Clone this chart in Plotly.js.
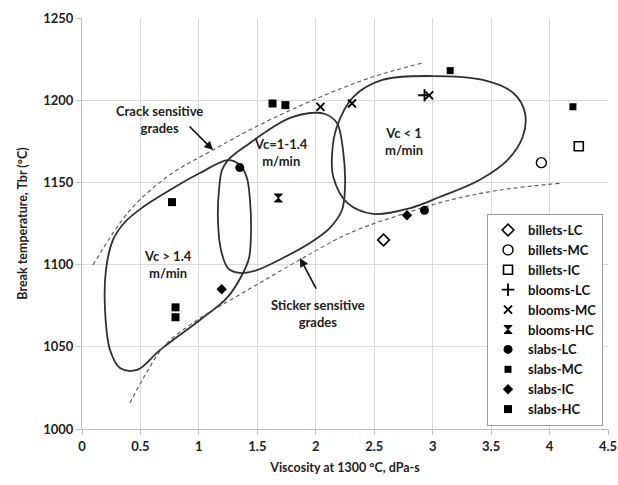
<!DOCTYPE html>
<html>
<head>
<meta charset="utf-8">
<script src="https://cdn.plot.ly/plotly-3.0.1.min.js"></script>
<style>html,body{margin:0;padding:0;background:#fff;}#chart{width:618px;height:485px;}</style>
</head>
<body>
<div id="chart"></div>
<script>
// ---- data series ----
const billetsLC_x = [2.58];           const billetsLC_y = [1115];
const billetsMC_x = [3.93];           const billetsMC_y = [1162];
const billetsIC_x = [4.25];           const billetsIC_y = [1172];
const bloomsLC_x  = [2.93];           const bloomsLC_y  = [1203];
const bloomsMC_x  = [2.04, 2.31, 2.97]; const bloomsMC_y = [1196, 1198, 1203];
const bloomsHC_x  = [1.68];           const bloomsHC_y  = [1140.5];
const slabsLC_x   = [1.35, 2.93];     const slabsLC_y   = [1159, 1133];
const slabsMC_x   = [3.15, 4.20];     const slabsMC_y   = [1218, 1196];
const slabsIC_x   = [1.195, 2.78];    const slabsIC_y   = [1085, 1130];
const slabsHC_x   = [1.63, 1.74, 0.77, 0.80, 0.80];
const slabsHC_y   = [1198, 1197, 1138, 1074, 1068];

// region outlines (Vc > 1.4, Vc = 1-1.4, Vc < 1)
const loopA_x = [1.249,1.352,1.411,1.437,1.446,1.429,1.369,1.240,1.009,0.667,0.470,0.325,0.240,0.197,0.205,0.265,0.368,0.522,0.753,1.009,1.249];
const loopA_y = [1163.6,1160.6,1152.7,1139.3,1121,1104,1093.7,1079.7,1066.3,1048,1035.9,1037.1,1048,1072.4,1096.7,1115,1125.9,1135,1145.4,1155.7,1163.6];
const loopB_x = [1.249,1.437,1.583,1.779,1.950,2.079,2.181,2.233,2.250,2.224,2.121,1.950,1.719,1.497,1.352,1.249,1.189,1.163,1.172,1.198,1.249];
const loopB_y = [1163.6,1174,1181.3,1189.2,1192.2,1191.6,1186.1,1169.7,1147.2,1133.2,1122.3,1113.1,1104,1096.7,1094.9,1097.9,1108.9,1127.1,1145.4,1157.5,1163.6];
const loopC_x = [2.18,2.32,2.57,3.00,3.43,3.69,3.79,3.77,3.64,3.40,3.06,2.81,2.49,2.27,2.15,2.14,2.18];
const loopC_y = [1183.7,1201.9,1212.3,1214.7,1212.3,1204.4,1192.2,1177.6,1163.6,1151.5,1141.1,1134.4,1130.8,1137.5,1153.3,1167.9,1183.7];

// dashed boundaries
const crack_x = [0.094,0.41,0.75,1.12,1.52,2.04,2.46,2.91];
const crack_y = [1099.8,1133,1154.5,1169.7,1185,1202,1213.5,1222.6];
const sticker_x = [0.41,0.54,0.71,1.01,1.27,1.52,1.86,2.29,2.72,3.15,3.58,4.11];
const sticker_y = [1015.8,1032.8,1051,1067.5,1078.5,1088.8,1102.8,1119.2,1130.2,1139.3,1145.4,1149.6];

// labels
const labelText = ['Crack sensitive<br>grades','Vc=1-1.4<br>m/min','Vc < 1<br>m/min','Vc > 1.4<br>m/min','Sticker sensitive<br>grades'];
const labelX = [0.66, 1.70, 2.755, 0.736, 2.02];
const labelY = [1188, 1168, 1175, 1100, 1070];
// arrows: tail -> head
const arrowTailX = [0.907, 2.010]; const arrowTailY = [1184.9, 1084.5];
const arrowHeadX = [1.121, 1.865]; const arrowHeadY = [1169.7, 1104];

const xTicks = [0,0.5,1,1.5,2,2.5,3,3.5,4,4.5];
const yTicks = [1000,1050,1100,1150,1200,1250];

// ---- build ----
const FONT = 'Lato, "Open Sans", sans-serif';
const INK = '#000';
function pts(name, x, y, symbol, size, lw){
  return {type:'scatter', mode:'markers', name:name, x:x, y:y,
    marker:{symbol:symbol, size:size, color:INK, line:{color:INK, width:lw}}};
}
function outline(x, y, dash, color, width){
  return {type:'scatter', mode:'lines', x:x, y:y, showlegend:false, hoverinfo:'skip',
    line:{shape:'spline', smoothing:1.0, color:color, width:width, dash:dash}};
}
const traces = [
  outline(loopA_x, loopA_y, 'solid', '#303030', 1.8),
  outline(loopB_x, loopB_y, 'solid', '#303030', 1.8),
  outline(loopC_x, loopC_y, 'solid', '#303030', 1.8),
  outline(crack_x, crack_y, '4px,3px', '#555', 1.1),
  outline(sticker_x, sticker_y, '4px,3px', '#555', 1.1),
  pts('billets-LC', billetsLC_x, billetsLC_y, 'diamond-open', 9, 1.6),
  pts('billets-MC', billetsMC_x, billetsMC_y, 'circle-open', 10, 1.4),
  pts('billets-IC', billetsIC_x, billetsIC_y, 'square-open', 9, 1.6),
  pts('blooms-LC', bloomsLC_x, bloomsLC_y, 'cross-thin-open', 9, 1.8),
  pts('blooms-MC', bloomsMC_x, bloomsMC_y, 'x-thin-open', 8, 1.8),
  pts('blooms-HC', bloomsHC_x, bloomsHC_y, 'hourglass', 8, 1),
  pts('slabs-LC', slabsLC_x, slabsLC_y, 'circle', 9, 0),
  pts('slabs-MC', slabsMC_x, slabsMC_y, 'square', 7, 0),
  pts('slabs-IC', slabsIC_x, slabsIC_y, 'diamond', 8, 0),
  pts('slabs-HC', slabsHC_x, slabsHC_y, 'square', 8, 0)
];

const annotations = [];
for (let i=0;i<labelText.length;i++){
  annotations.push({x:labelX[i], y:labelY[i], xref:'x', yref:'y', text:'<b>'+labelText[i]+'</b>',
    showarrow:false, font:{family:FONT, size:13, color:'#222'}, align:'center'});
}
for (let i=0;i<arrowTailX.length;i++){
  annotations.push({x:arrowHeadX[i], y:arrowHeadY[i], ax:arrowTailX[i], ay:arrowTailY[i],
    xref:'x', yref:'y', axref:'x', ayref:'y', text:'', showarrow:true,
    arrowhead:2, arrowsize:1.1, arrowwidth:1.6, arrowcolor:'#111'});
}

const layout = {
  width:618, height:485,
  margin:{l:82, r:10, t:18, b:56},
  paper_bgcolor:'#fff', plot_bgcolor:'#fff',
  font:{family:FONT, size:12, color:'#222'},
  showlegend:true,
  legend:{x:0.77, y:0.523, xanchor:'left', yanchor:'top', bgcolor:'#fff',
    bordercolor:'#9a9a9a', borderwidth:1, itemwidth:30, tracegroupgap:0,
    font:{family:FONT, size:13, color:'#111', weight:'bold'}},
  xaxis:{range:[0,4.5], tickvals:xTicks, ticktext:xTicks.map(String),
    showgrid:true, gridcolor:'#d9d9d9', gridwidth:1, zeroline:false,
    showline:true, linecolor:'#bfbfbf', linewidth:1, ticks:'outside', ticklen:5, tickcolor:'#bfbfbf',
    tickfont:{family:FONT, size:13, color:'#222', weight:'bold'},
    title:{text:'Viscosity at 1300 °C, dPa-s', font:{family:FONT, size:12.5, color:'#222', weight:'bold'}, standoff:10}},
  yaxis:{range:[1000,1250], tickvals:yTicks, ticktext:yTicks.map(String),
    showgrid:true, gridcolor:'#d9d9d9', gridwidth:1, zeroline:false,
    showline:true, linecolor:'#bfbfbf', linewidth:1, ticks:'outside', ticklen:5, tickcolor:'#bfbfbf',
    tickfont:{family:FONT, size:13, color:'#222', weight:'bold'},
    title:{text:'Break temperature, Tbr (°C)', font:{family:FONT, size:12.5, color:'#222', weight:'bold'}, standoff:12}},
  annotations:annotations
};
Plotly.newPlot('chart', traces, layout, {staticPlot:true, displayModeBar:false});
</script>
</body>
</html>
